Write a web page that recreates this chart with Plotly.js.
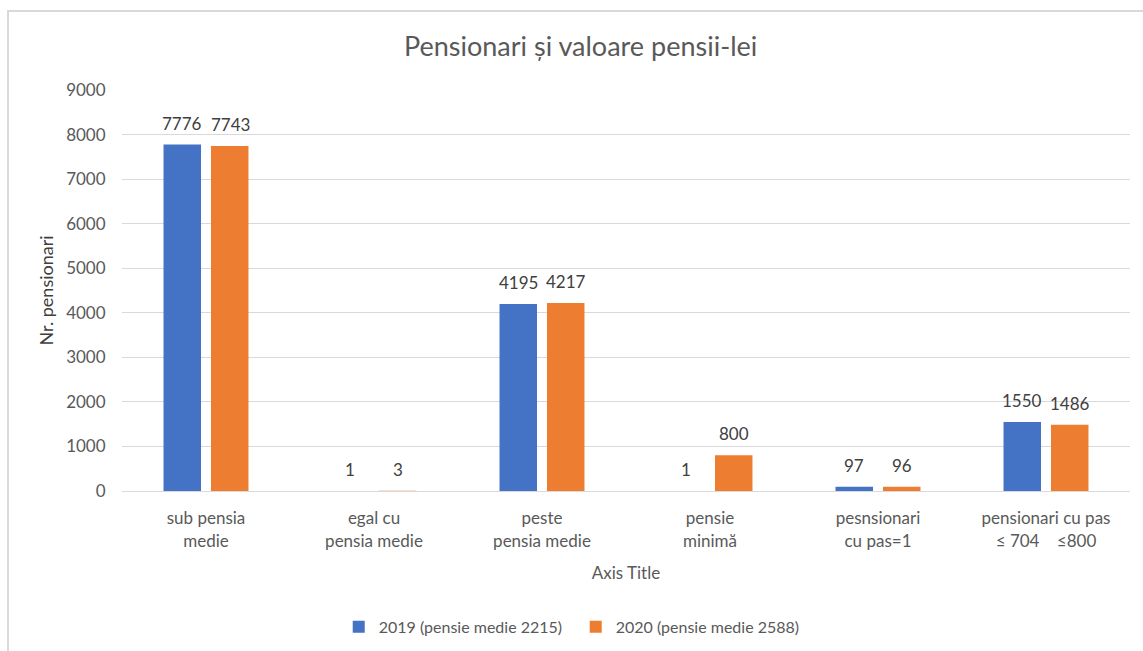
<!DOCTYPE html>
<html>
<head>
<meta charset="utf-8">
<script src="https://cdn.plot.ly/plotly-3.0.1.min.js"></script>
<style>
  html, body { margin: 0; padding: 0; background: #ffffff; }
  #frame { position: absolute; left: 7px; top: 10px; width: 1140px; height: 645px;
           border-left: 2px solid #d9d9d9; border-top: 2px solid #d9d9d9; }
  #chart { position: absolute; left: 0; top: 0; width: 1143px; height: 651px; }
</style>
</head>
<body>
<div id="frame"></div>
<div id="chart"></div>
<script>
const categories = [
  "sub pensia<br>medie",
  "egal cu<br>pensia medie",
  "peste<br>pensia medie",
  "pensie<br>minimă",
  "pesnsionari<br>cu pas=1",
  "pensionari cu pas<br>≤ 704\u00a0\u00a0\u00a0\u00a0≤800"
];
const series2019Name = "2019 (pensie medie 2215)";
const series2020Name = "2020 (pensie medie 2588)";
const values2019 = [7776, 1, 4195, 1, 97, 1550];
const values2020 = [7743, 3, 4217, 800, 96, 1486];
const yTicks = [0, 1000, 2000, 3000, 4000, 5000, 6000, 7000, 8000, 9000];

const FONT = "Lato, Open Sans, sans-serif";
const LABEL_COLOR = "#404040";
const TICK_COLOR = "#595959";

const traces = [
  { type: "bar", name: series2019Name, x: categories, y: values2019,
    marker: { color: "#4472C4" }, hoverinfo: "y+name" },
  { type: "bar", name: series2020Name, x: categories, y: values2020,
    marker: { color: "#ED7D31" }, hoverinfo: "y+name" }
];

// data labels positioned by the library's axes (category + value), shifted onto each bar of the group
const annotations = [];
[[values2019, -24], [values2020, 24]].forEach(([vals, shift]) => {
  vals.forEach((v, i) => {
    annotations.push({
      x: categories[i], y: v, xref: "x", yref: "y",
      text: String(v), showarrow: false, xshift: shift, yshift: 9,
      xanchor: "center", yanchor: "bottom",
      font: { family: FONT, size: 17, color: LABEL_COLOR }
    });
  });
});

const layout = {
  width: 1143, height: 651,
  paper_bgcolor: "rgba(0,0,0,0)", plot_bgcolor: "rgba(0,0,0,0)",
  margin: { l: 122, r: 13, t: 90, b: 160 },
  font: { family: FONT, color: TICK_COLOR, size: 16 },
  title: { text: "Pensionari și valoare pensii-lei", x: 0.508, xanchor: "center", y: 0.928, yanchor: "middle",
           font: { family: FONT, size: 27, color: TICK_COLOR } },
  barmode: "group", bargap: 0.435, bargroupgap: 0.21,
  xaxis: {
    type: "category", showgrid: false, zeroline: false, showline: false, automargin: false,
    ticks: "outside", ticklen: 12, tickcolor: "rgba(0,0,0,0)",
    tickfont: { family: FONT, size: 17, color: TICK_COLOR },
    title: { text: "Axis Title", font: { family: FONT, size: 17, color: TICK_COLOR }, standoff: 17 }
  },
  yaxis: {
    range: [0, 9000], tickvals: yTicks, ticktext: yTicks.map(String), automargin: false,
    showgrid: true, gridcolor: "#d9d9d9", gridwidth: 1, zeroline: true, zerolinecolor: "#d9d9d9",
    showline: false, ticks: "outside", ticklen: 12, tickcolor: "rgba(0,0,0,0)",
    tickfont: { family: FONT, size: 17, color: TICK_COLOR },
    title: { text: "Nr. pensionari", font: { family: FONT, size: 18, color: LABEL_COLOR }, standoff: 7 }
  },
  legend: {
    orientation: "h", x: 0.215, xanchor: "left", yref: "container", y: 0.037, yanchor: "middle",
    entrywidth: 192, entrywidthmode: "pixels",
    font: { family: FONT, size: 16, color: TICK_COLOR }, itemwidth: 30, traceorder: "normal"
  },
  annotations: annotations,
  showlegend: true
};

Plotly.newPlot("chart", traces, layout, { displayModeBar: false, staticPlot: true });
</script>
</body>
</html>
